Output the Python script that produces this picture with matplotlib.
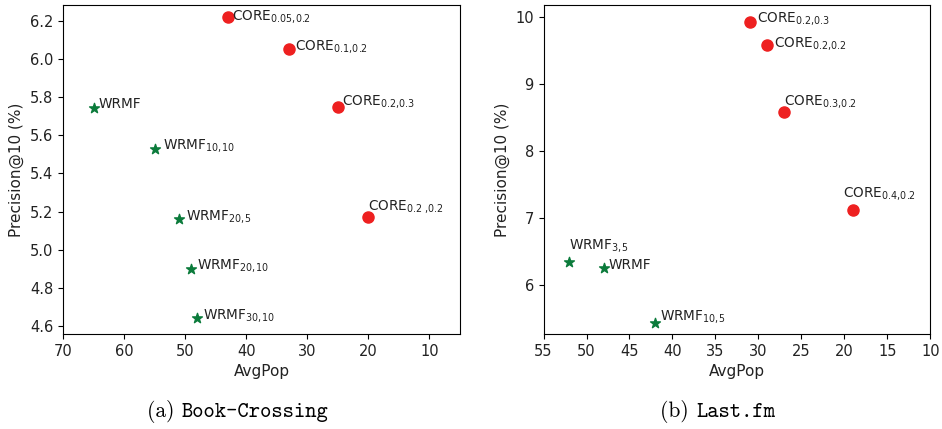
import matplotlib.pyplot as plt

# Book-Crossing
bx_core = [43, 33, 25, 20]
by_core = [6.22, 6.05, 5.75, 5.17]
bl_core = ["CORE$_\\mathregular{0.05,\\!0.2}$", "CORE$_\\mathregular{0.1,\\!0.2}$",
           "CORE$_\\mathregular{0.2,\\!0.3}$", "CORE$_\\mathregular{0.2\\ ,\\!0.2}$"]
bx_wrmf = [65, 55, 51, 49, 48]
by_wrmf = [5.74, 5.53, 5.16, 4.90, 4.64]
bl_wrmf = ["WRMF", "WRMF$_\\mathregular{10,\\!10}$", "WRMF$_\\mathregular{20,\\!5}$",
           "WRMF$_\\mathregular{20,\\!10}$", "WRMF$_\\mathregular{30,\\!10}$"]

# Last.fm
lx_core = [31, 29, 27, 19]
ly_core = [9.93, 9.58, 8.59, 7.12]
ll_core = ["CORE$_\\mathregular{0.2,\\!0.3}$", "CORE$_\\mathregular{0.2,\\!0.2}$",
           "CORE$_\\mathregular{0.3,\\!0.2}$", "CORE$_\\mathregular{0.4,\\!0.2}$"]
lx_wrmf = [52, 48, 42]
ly_wrmf = [6.35, 6.25, 5.43]
ll_wrmf = ["WRMF$_\\mathregular{3,\\!5}$", "WRMF", "WRMF$_\\mathregular{10,\\!5}$"]

# label offsets in pixels
b_core_off = [(4, -3), (6, 0), (4, 2), (0, 8)]
b_wrmf_off = [(5, 0), (8, 0), (7, 0), (6, 0), (6, 0)]
l_core_off = [(7, 0), (7, -1), (0, 7), (-10, 13)]
l_wrmf_off = [(0, 13), (5, -1), (5, 4)]

RED = "#ee2020"
GREEN = "#0b7b3b"

fig = plt.figure(figsize=(9.42, 4.29), dpi=100)
ax1 = fig.add_axes([0.0669, 0.2214, 0.4214, 0.7669])
ax2 = fig.add_axes([0.577, 0.2214, 0.4106, 0.7669])


def draw(ax, xc, yc, lc, oc, xw, yw, lw, ow):
    ax.scatter(xc, yc, s=64, color=RED, marker="o", zorder=3)
    ax.scatter(xw, yw, s=55, color=GREEN, marker="*", zorder=3)
    for x, y, t, o in zip(xc, yc, lc, oc):
        ax.annotate(t, (x, y), xytext=o, textcoords="offset pixels",
                    fontsize=9.8, va="baseline", ha="left", color="#222222")
    for x, y, t, o in zip(xw, yw, lw, ow):
        ax.annotate(t, (x, y), xytext=o, textcoords="offset pixels",
                    fontsize=9.8, va="baseline", ha="left", color="#222222")
    ax.set_xlabel("AvgPop", fontsize=11, color="#222222")
    ax.set_ylabel("Precision@10 (%)", fontsize=11, color="#222222")
    ax.tick_params(labelsize=10.5, labelcolor="#222222")


draw(ax1, bx_core, by_core, bl_core, b_core_off, bx_wrmf, by_wrmf, bl_wrmf, b_wrmf_off)
ax1.set_xlim(70, 5)
ax1.set_ylim(4.558, 6.282)
ax1.set_xticks([70, 60, 50, 40, 30, 20, 10])
ax1.set_yticks([4.6, 4.8, 5.0, 5.2, 5.4, 5.6, 5.8, 6.0, 6.2])

draw(ax2, lx_core, ly_core, ll_core, l_core_off, lx_wrmf, ly_wrmf, ll_wrmf, l_wrmf_off)
ax2.set_xlim(55, 10)
ax2.set_ylim(5.27, 10.18)
ax2.set_xticks([55, 50, 45, 40, 35, 30, 25, 20, 15, 10])
ax2.set_yticks([6, 7, 8, 9, 10])

# captions
for x, tag, name in [(0.193, "(a)", "Book-Crossing"), (0.739, "(b)", "Last.fm")]:
    fig.text(x, 0.027, tag + " ", family="cmr10", fontsize=15.5, ha="right", va="baseline")
    fig.text(x, 0.027, name, family="cmtt10", fontsize=15.5, ha="left", va="baseline")

fig.savefig("out.png", dpi=100)
